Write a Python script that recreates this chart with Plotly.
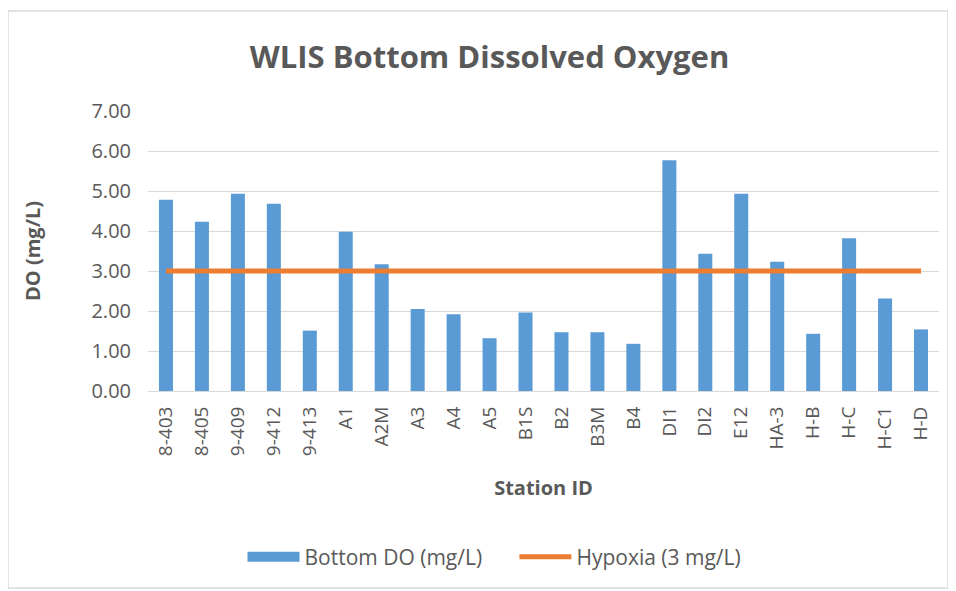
import plotly.graph_objects as go

stations = ["8-403", "8-405", "9-409", "9-412", "9-413", "A1", "A2M", "A3", "A4", "A5",
            "B1S", "B2", "B3M", "B4", "DI1", "DI2", "E12", "HA-3", "H-B", "H-C", "H-C1", "H-D"]
bottom_do = [4.78, 4.23, 4.93, 4.68, 1.51, 3.98, 3.17, 2.05, 1.92, 1.32,
             1.96, 1.47, 1.47, 1.18, 5.77, 3.43, 4.93, 3.23, 1.43, 3.82, 2.31, 1.54]
hypoxia = [3.0] * len(stations)
y_ticks = [0, 1, 2, 3, 4, 5, 6, 7]

FONT = "Open Sans"
GRAY = "#595959"
BLUE = "#5B9BD5"
ORANGE = "#ED7D31"

W, H = 948, 583
L, R, T, B = 140, 17, 103, 200
PW, PH = W - L - R, H - T - B

fig = go.Figure()
fig.add_trace(go.Bar(x=stations, y=bottom_do, name="Bottom DO (mg/L)", showlegend=False,
                     legendgroup="do", marker=dict(color=BLUE, line=dict(width=0))))
fig.add_trace(go.Scatter(x=[None], y=[None], name="Bottom DO (mg/L)" + "\u00a0" * 5, mode="lines",
                         legendgroup="do", line=dict(color=BLUE, width=12)))
fig.add_trace(go.Scatter(x=stations, y=hypoxia, name="Hypoxia (3 mg/L)", mode="lines",
                         line=dict(color=ORANGE, width=5)))

fig.update_layout(
    width=W, height=H,
    margin=dict(l=L, r=R, t=T, b=B),
    paper_bgcolor="white", plot_bgcolor="white",
    bargap=0.61,
    font=dict(family=FONT, color=GRAY, size=19),
    title=dict(text="<b>WLIS Bottom Dissolved Oxygen</b>", x=0.508, xanchor="center",
               y=1 - 49 / H, yanchor="middle",
               font=dict(family=FONT, size=31, color=GRAY)),
    xaxis=dict(tickangle=-90, showgrid=False, showline=True, linecolor="#D9D9D9", linewidth=1,
               ticks="", ticklabelstandoff=7,
               tickfont=dict(size=19, color=GRAY),
               title=dict(text="<b>Station ID</b>", font=dict(size=20, color=GRAY), standoff=25)),
    yaxis=dict(range=[0, 7], tickvals=y_ticks, tickformat=".2f", showgrid=True,
               gridcolor="#D9D9D9", gridwidth=1, zeroline=False, ticks="",
               ticklabelstandoff=16, tickfont=dict(size=20, color=GRAY),
               title=dict(text="<b>DO (mg/L)</b>", font=dict(size=20, color=GRAY), standoff=45)),
    legend=dict(orientation="h", x=(486.5 - L) / PW, xanchor="center",
                y=(383 - 549) / PH, yanchor="middle",
                font=dict(size=21, color=GRAY), itemwidth=52),
    shapes=[dict(type="rect", xref="paper", yref="paper",
                 x0=(0 - L) / PW, x1=(940 - L) / PW,
                 y0=(383 - 580) / PH, y1=(383 - 3) / PH,
                 line=dict(color="#D9D9D9", width=1.5), fillcolor="rgba(0,0,0,0)", layer="below")],
)

fig.write_html("out.html")
